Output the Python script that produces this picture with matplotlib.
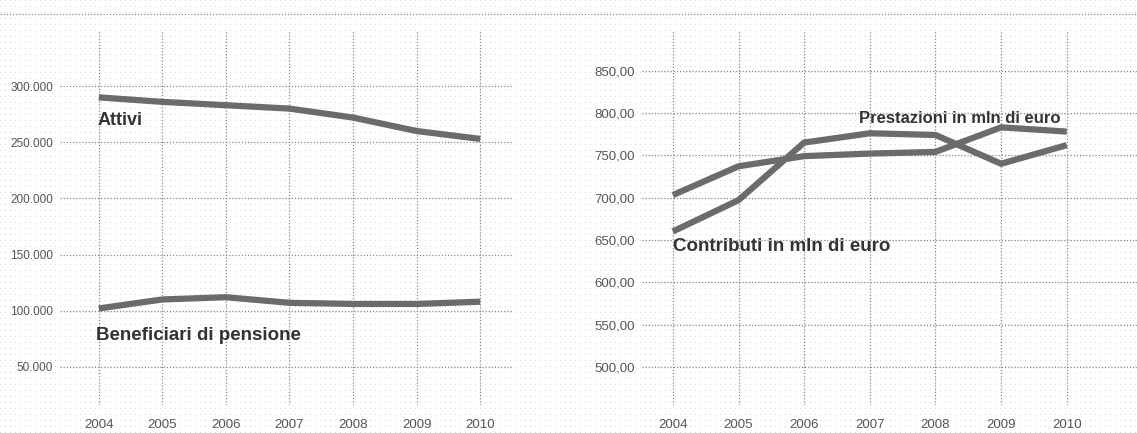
import matplotlib
matplotlib.use("Agg")
import matplotlib.pyplot as plt
from matplotlib.lines import Line2D
import numpy as np

plt.rcParams['font.family'] = ['Liberation Sans', 'DejaVu Sans']

# data
years = [2004, 2005, 2006, 2007, 2008, 2009, 2010]
attivi = [290000, 286000, 283000, 280000, 272000, 260000, 253000]
beneficiari = [102000, 110000, 112000, 107000, 106000, 106000, 108000]
prestazioni = [703, 737, 749, 752, 754, 783, 778]
contributi = [660, 697, 765, 776, 774, 740, 762]

left_ticks = [50000, 100000, 150000, 200000, 250000, 300000]
left_labels = ['50.000', '100.000', '150.000', '200.000', '250.000', '300.000']
right_ticks = [500, 550, 600, 650, 700, 750, 800, 850]
right_labels = ['500,00', '550,00', '600,00', '650,00', '700,00', '750,00', '800,00', '850,00']

line_col = '#6b6b6b'
grid_col = '#8a8a8a'
text_col = '#555555'

W, H = 1137, 433
fig = plt.figure(figsize=(W / 100, H / 100), dpi=100)

# light halftone dot screen behind everything
bg = np.ones((H, W, 3))
bg[::6, ::5] = 0.84
fig.figimage(bg, 0, 0, zorder=-10)


def px(x0, y0, x1, y1):
    # axes rect from pixel box (top-left origin)
    return [x0 / W, 1 - y1 / H, (x1 - x0) / W, (y1 - y0) / H]


def style(ax, ticks, labels, fs):
    ax.patch.set_alpha(0)
    ax.set_yticks(ticks)
    ax.set_yticklabels(labels, fontsize=fs, color=text_col)
    ax.set_xticks(years)
    ax.set_xticklabels([str(y) for y in years], fontsize=9.5, color=text_col)
    ax.tick_params(length=0, axis='y', pad=5)
    ax.tick_params(length=0, axis='x', pad=10)
    for s in ax.spines.values():
        s.set_visible(False)
    ax.grid(True, linestyle=(0, (1, 1.5)), color=grid_col, linewidth=0.9)
    ax.set_axisbelow(True)


# left panel
ax1 = fig.add_axes(px(60, 30, 512, 405))
ax1.set_xlim(2003.39, 2010.5)
ax1.set_ylim(16000, 350000)
style(ax1, left_ticks, left_labels, 8.5)
ax1.plot(years, attivi, color=line_col, lw=4.5, solid_capstyle='butt')
ax1.plot(years, beneficiari, color=line_col, lw=4.5, solid_capstyle='butt')
ax1.text(2003.98, 269000, 'Attivi', fontsize=13, fontweight='bold',
         color='#333333', va='center', ha='left')
ax1.text(2003.96, 78000, 'Beneficiari di pensione', fontsize=13.5,
         fontweight='bold', color='#333333', va='center', ha='left')

# right panel
ax2 = fig.add_axes(px(642, 30, 1137, 405))
ax2.set_xlim(2003.53, 2011.07)
ax2.set_ylim(455, 898)
style(ax2, right_ticks, right_labels, 9.5)
ax2.plot(years, prestazioni, color=line_col, lw=4.5, solid_capstyle='butt')
ax2.plot(years, contributi, color=line_col, lw=4.5, solid_capstyle='butt')
ax2.text(2009.9, 794, 'Prestazioni in mln di euro', fontsize=12,
         fontweight='bold', color='#333333', va='center', ha='right')
ax2.text(2004.0, 642, 'Contributi in mln di euro', fontsize=13.5,
         fontweight='bold', color='#333333', va='center', ha='left')

# dotted rule across the top
fig.add_artist(Line2D([0, 1], [1 - 14 / H, 1 - 14 / H], transform=fig.transFigure,
                      color=grid_col, linestyle=(0, (1, 1.5)), linewidth=0.9))

fig.savefig('out.png', dpi=100)
